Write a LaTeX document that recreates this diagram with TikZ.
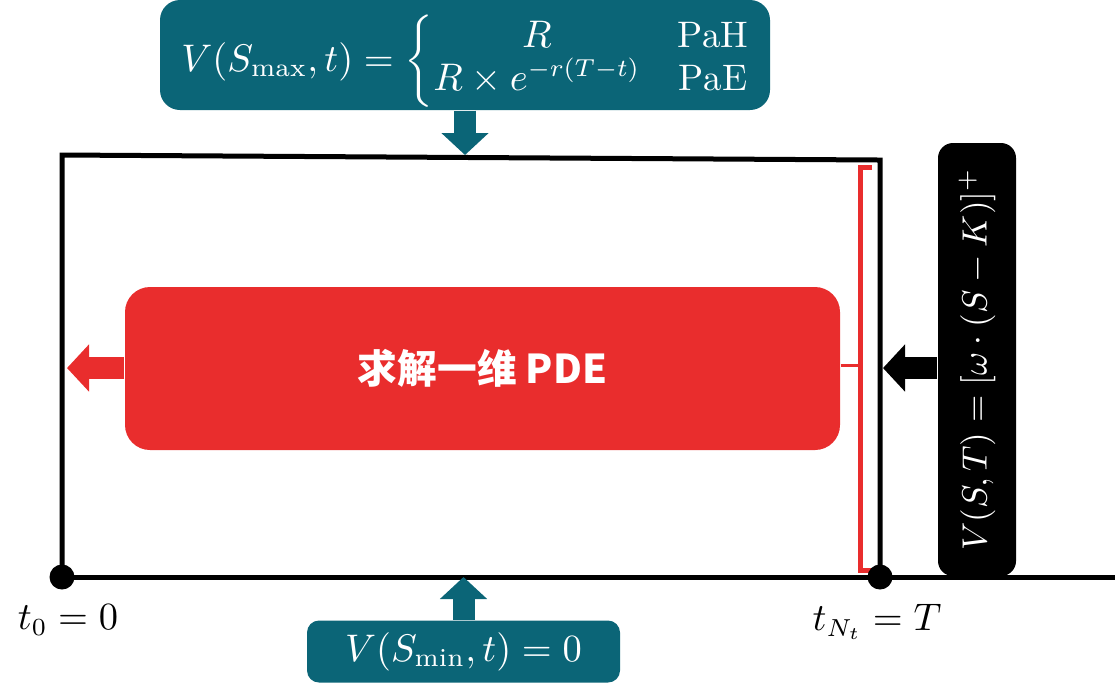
\documentclass[tikz,border=0pt]{standalone}
\usepackage{fontspec}
\usepackage{amsmath}
\usetikzlibrary{arrows.meta}
\newfontfamily\cjk{Noto Sans CJK SC}
\definecolor{bcteal}{HTML}{0B6577}
\definecolor{pdered}{HTML}{E92D2D}

\begin{document}
\begin{tikzpicture}[
    mathfont/.style={font=\fontsize{10.5}{12.5}\selectfont},
    bcbox/.style={fill=bcteal, text=white, inner sep=0pt, mathfont},
    fatarrow/.style={line width=0.22cm, -{Triangle[width=0.46cm,length=0.22cm]}},
    frameline/.style={line width=0.05cm}
]
\useasboundingbox (0,0) rectangle (11.15,-6.83);

% grid corners and arrow tips
\coordinate (tl) at (0.62,-1.55);
\coordinate (tr) at (8.80,-1.60);
\coordinate (bl) at (0.62,-5.77);
\coordinate (br) at (8.80,-5.77);
\coordinate (axisend) at (11.15,-5.77);
\coordinate (maxtip) at (4.65,-1.55);
\coordinate (mintip) at (4.635,-5.77);
\coordinate (lefttip) at (0.67,-3.68);
\coordinate (righttip) at (8.83,-3.68);
\coordinate (brtop) at (8.60,-1.67);
\coordinate (brbot) at (8.60,-5.70);
\coordinate (brmid) at (8.60,-3.65);

\draw[frameline] (bl) -- (tl) -- (tr) -- (br);
\draw[frameline] (bl) -- (axisend);

\node[
    bcbox,
    rounded corners=0.2cm,
    minimum width=6.1cm,
    minimum height=1.1cm
] (smax) at (4.65,-0.55)
{\raisebox{-0.16cm}[0pt][0pt]{$V(S_{\max},t)=\bigg\{\renewcommand\arraystretch{0.85}\begin{array}{@{}c@{\quad}c@{}}
    R & \mathrm{PaH}\\
    R\times e^{-r(T-t)} & \mathrm{PaE}
\end{array}$}};

\node[
    bcbox,
    rounded corners=0.12cm,
    minimum width=3.13cm,
    minimum height=0.62cm
] (smin) at (4.635,-6.515)
{$V(S_{\min},t)=0$};

\node[
    fill=pdered,
    text=white,
    rounded corners=0.25cm,
    minimum width=7.15cm,
    minimum height=1.63cm,
    font=\cjk\fontsize{11.3}{13}\selectfont\bfseries
] (pde) at (4.825,-3.685)
{求解一维 PDE};

\node[
    fill=black,
    text=white,
    rounded corners=0.15cm,
    rotate=90,
    inner sep=0pt,
    minimum width=4.33cm,
    minimum height=0.78cm,
    font=\fontsize{10}{12}\selectfont
] (payoff) at (9.77,-3.595)
{$V(S,T)=[\omega\cdot(S-K)]^{+}$};

\draw[pdered, line width=0.05cm] ([xshift=0.12cm]brtop) -- (brtop) -- (brbot) -- ([xshift=0.12cm]brbot);
\draw[pdered, line width=0.03cm] (brmid -| pde.east) -- (brmid);

\draw[fatarrow, bcteal] (smax.south) -- (maxtip);
\draw[fatarrow, bcteal] (smin.north) -- (mintip);
\draw[fatarrow, pdered] (lefttip -| pde.west) -- (lefttip);
\draw[fatarrow, black] (righttip -| payoff.north) -- (righttip);

\fill (bl) circle (0.125);
\fill (br) circle (0.125);

\node[mathfont] (t0) at (0.68,-6.20) {$t_0=0$};
\node[mathfont] (tN) at (8.77,-6.22) {$t_{N_t}=T$};

\end{tikzpicture}
\end{document}
